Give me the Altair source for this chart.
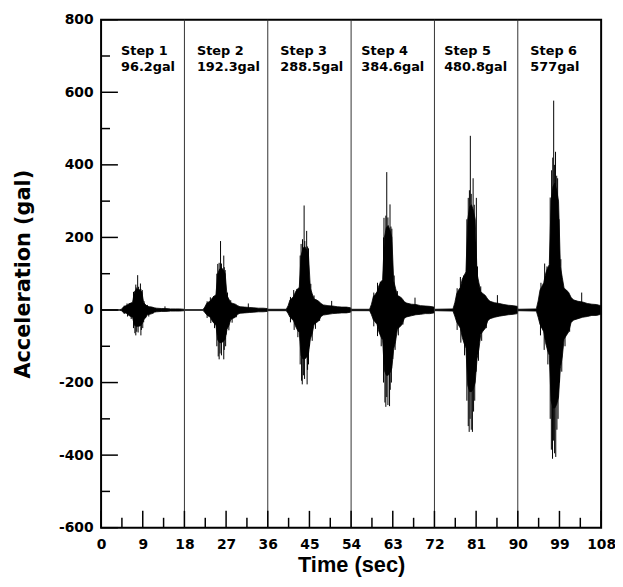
import altair as alt
import pandas as pd

FONT = "DejaVu Sans"
TITLE_FONT = "Liberation Sans"

# ---------------- data ----------------
step_names = ["Step 1", "Step 2", "Step 3", "Step 4", "Step 5", "Step 6"]
step_pga = ["96.2gal", "192.3gal", "288.5gal", "384.6gal", "480.8gal", "577gal"]
step_start = [0, 18, 36, 54, 72, 90]
label_x = [4.3, 20.7, 38.7, 56.2, 74.1, 92.7]
separators = [18, 36, 54, 72, 90]

x_major = [0, 9, 18, 27, 36, 45, 54, 63, 72, 81, 90, 99, 108]
x_minor = [4.5, 13.5, 22.5, 31.5, 40.5, 49.5, 58.5, 67.5, 76.5, 85.5, 94.5, 103.5]
y_major = [-600, -400, -200, 0, 200, 400, 600, 800]
y_minor = [-500, -300, -100, 100, 300, 500, 700]

# relative time grid (s within each step) of the dense core envelope
env_t = [0.0, 4.0, 4.4, 4.8, 5.2, 5.6, 6.0, 6.4, 6.8, 7.2, 7.6, 8.0, 8.4, 8.8,
         9.2, 9.6, 10.0, 10.5, 11.0, 11.5, 12.0, 13.0, 14.0, 15.0, 16.0, 17.0, 17.9]

env_hi = [
    [1, 1, 2, 8, 11, 13, 17, 19, 21, 50, 57, 58, 55, 50, 20, 15, 10, 9, 8, 6, 5, 4, 4, 3, 3, 3, 2],
    [1, 1, 8, 18, 22, 25, 33, 38, 42, 100, 113, 117, 110, 100, 40, 30, 20, 18, 16, 12, 9, 8, 7, 6, 5, 5, 4],
    [2, 2, 12, 28, 32, 38, 50, 58, 62, 150, 170, 175, 165, 150, 60, 45, 30, 28, 24, 18, 14, 12, 11, 9, 8, 8, 6],
    [2, 2, 16, 37, 43, 50, 67, 77, 83, 200, 227, 233, 220, 200, 80, 60, 40, 37, 32, 23, 19, 16, 15, 12, 11, 10, 8],
    [2, 3, 20, 45, 55, 62, 85, 95, 105, 250, 285, 290, 275, 250, 100, 75, 50, 45, 40, 30, 24, 20, 18, 15, 13, 12, 10],
    [2, 3, 25, 55, 65, 75, 100, 115, 125, 300, 340, 350, 330, 300, 120, 90, 60, 55, 48, 35, 28, 24, 22, 18, 16, 15, 12],
]
env_lo = [
    [-1, -1, -2, -7, -8, -10, -15, -18, -21, -42, -45, -45, -44, -40, -27, -22, -13, -12, -10, -6, -5, -4, -4, -3, -3, -3, -2],
    [-1, -1, -7, -13, -17, -20, -30, -37, -42, -83, -90, -90, -87, -80, -53, -43, -27, -23, -20, -12, -9, -8, -7, -6, -5, -5, -4],
    [-2, -2, -10, -20, -25, -30, -45, -55, -62, -125, -135, -135, -130, -120, -80, -65, -40, -35, -30, -18, -14, -12, -10, -9, -8, -8, -6],
    [-2, -2, -13, -27, -33, -40, -60, -73, -83, -167, -180, -180, -173, -160, -107, -87, -53, -47, -40, -23, -19, -16, -13, -12, -10, -10, -8],
    [-2, -3, -17, -33, -42, -50, -75, -92, -105, -208, -225, -225, -217, -200, -135, -108, -67, -58, -50, -30, -24, -20, -17, -15, -13, -12, -10],
    [-2, -3, -20, -40, -50, -60, -90, -110, -125, -250, -270, -270, -260, -240, -160, -130, -80, -70, -60, -35, -28, -24, -20, -18, -15, -15, -12],
]

# individual peaks (relative time, acceleration) standing out of the core
spike_t = [
    [5.0, 5.6, 6.3, 7.0, 7.5, 7.6, 7.9, 8.1, 8.5, 8.6, 8.9, 9.3, 10.0, 13.8,
     5.0, 5.7, 6.5, 7.0, 7.3, 7.5, 7.7, 8.0, 8.6, 8.7, 9.0, 9.2, 9.6, 10.3, 11.2],
    [4.9, 5.6, 6.3, 7.0, 7.2, 7.5, 7.8, 8.0, 8.5, 8.6, 8.8, 9.3, 10.0, 13.8,
     4.9, 5.7, 6.5, 7.0, 7.3, 7.5, 7.7, 8.0, 8.5, 8.6, 8.9, 9.0, 9.6, 10.3, 11.2],
    [4.9, 5.6, 6.3, 7.0, 7.2, 7.5, 7.85, 8.0, 8.4, 8.6, 8.8, 9.3, 10.0, 13.8,
     4.9, 5.7, 6.5, 7.0, 7.3, 7.45, 7.7, 7.95, 8.5, 8.6, 8.8, 9.0, 9.6, 10.3, 11.2],
    [4.9, 5.7, 6.3, 7.0, 7.1, 7.5, 7.7, 7.95, 8.4, 8.6, 8.8, 9.3, 10.0, 13.8,
     4.9, 5.7, 6.5, 7.0, 7.3, 7.5, 7.7, 7.95, 8.3, 8.45, 8.7, 9.0, 9.5, 10.2, 11.2],
    [4.9, 5.6, 6.3, 7.0, 7.3, 7.55, 7.75, 7.95, 8.35, 8.6, 9.05, 9.3, 10.0, 13.6,
     4.9, 5.7, 6.5, 7.0, 7.3, 7.5, 7.7, 7.95, 8.2, 8.45, 8.7, 9.0, 9.5, 10.2, 11.2],
    [5.0, 5.8, 6.3, 7.0, 7.3, 7.55, 7.75, 7.95, 8.15, 8.4, 8.6, 8.9, 9.3, 13.8,
     4.9, 5.7, 6.5, 7.0, 7.25, 7.5, 7.7, 7.95, 8.2, 8.45, 8.7, 9.0, 9.5, 10.2, 11.2],
]
spike_v = [
    [12, 18, 19, 50, 70, 62, 96, 64, 73, 58, 55, 24, 14, 10,
     -11, -18, -25, -50, -64, -70, -60, -62, -70, -55, -50, -34, -20, -18, -10],
    [24, 35, 38, 100, 127, 130, 190, 128, 150, 118, 110, 48, 27, 18,
     -22, -36, -50, -100, -128, -136, -120, -125, -136, -110, -100, -68, -56, -35, -20],
    [36, 55, 58, 150, 182, 195, 288, 190, 218, 175, 170, 72, 40, 25,
     -34, -55, -75, -150, -195, -205, -180, -190, -205, -165, -150, -100, -85, -52, -30],
    [48, 75, 78, 200, 254, 260, 380, 255, 291, 230, 224, 95, 52, 34,
     -45, -72, -100, -200, -255, -267, -240, -262, -265, -220, -200, -135, -110, -70, -40],
    [60, 91, 95, 250, 309, 330, 480, 320, 363, 290, 309, 120, 65, 41,
     -55, -90, -125, -250, -320, -336, -300, -330, -336, -280, -250, -170, -140, -85, -50],
    [75, 128, 120, 310, 385, 420, 577, 400, 436, 370, 363, 250, 140, 48,
     -70, -110, -150, -300, -385, -410, -360, -395, -405, -330, -300, -200, -170, -100, -60],
]

# ---------------- tables ----------------
env_rows = []
for k in range(6):
    for t, hi, lo in zip(env_t, env_hi[k], env_lo[k]):
        env_rows.append({"t": step_start[k] + t, "hi": hi, "lo": lo})
env_df = pd.DataFrame(env_rows)

spk_rows = []
for k in range(6):
    for t, v in zip(spike_t[k], spike_v[k]):
        spk_rows.append({"t": step_start[k] + t, "v": v, "zero": 0})
spk_df = pd.DataFrame(spk_rows)

sep_df = pd.DataFrame({"t": separators})
xmaj_df = pd.DataFrame({"t": x_major})
xmin_df = pd.DataFrame({"t": x_minor})
ymaj_df = pd.DataFrame({"v": y_major})
ymin_df = pd.DataFrame({"v": y_minor})
lab_df = pd.DataFrame({"t": label_x, "name": step_names, "pga": step_pga})

W, H = 505, 513

xs = alt.Scale(domain=[0, 108], nice=False, zero=False)
ys = alt.Scale(domain=[-600, 800], nice=False, zero=False)

xaxis = alt.Axis(values=x_major, ticks=False, domain=False, grid=False,
                 labelFont=FONT, labelFontSize=14, labelFontWeight="bold",
                 labelColor="black", labelPadding=10, labelFlush=False,
                 title="Time (sec)", titleFont=TITLE_FONT, titleFontSize=22,
                 titleFontWeight="bold", titleColor="black", titlePadding=3)
yaxis = alt.Axis(values=y_major, ticks=False, domain=False, grid=False,
                 labelExpr="'' + datum.value",
                 labelFont=FONT, labelFontSize=14, labelFontWeight="bold",
                 labelColor="black", labelPadding=8, labelFlush=False,
                 title="Acceleration (gal)", titleFont=FONT, titleFontSize=21,
                 titleFontWeight="bold", titleColor="black", titlePadding=25)


def X(field):
    return alt.X(f"{field}:Q", scale=xs, axis=xaxis)


def Y(field):
    return alt.Y(f"{field}:Q", scale=ys, axis=yaxis)


core = alt.Chart(env_df).mark_area(color="black", stroke="black",
                                   strokeWidth=0.8, interpolate="linear").encode(
    x=X("t"), y=Y("hi"), y2="lo")

spikes = alt.Chart(spk_df).mark_rule(color="black", strokeWidth=1).encode(
    x=X("t"), y=Y("zero"), y2="v")

seps = alt.Chart(sep_df).mark_rule(color="#333333", strokeWidth=1).encode(x=X("t"))

xmaj = alt.Chart(xmaj_df).mark_rule(color="black", strokeWidth=1.5).encode(
    x=X("t"), y=alt.value({"expr": "height"}), y2=alt.value({"expr": "height - 17"}))
xmin = alt.Chart(xmin_df).mark_rule(color="black", strokeWidth=1.5).encode(
    x=X("t"), y=alt.value({"expr": "height"}), y2=alt.value({"expr": "height - 10"}))
ymaj = alt.Chart(ymaj_df).mark_rule(color="black", strokeWidth=1.5).encode(
    y=Y("v"), x=alt.value(0), x2=alt.value(17))
ymin = alt.Chart(ymin_df).mark_rule(color="black", strokeWidth=1.5).encode(
    y=Y("v"), x=alt.value(0), x2=alt.value(9))

lab1 = alt.Chart(lab_df).mark_text(align="left", baseline="alphabetic", font=FONT,
                                   fontSize=13, fontWeight="bold", color="black").encode(
    x=X("t"), y=alt.value(36), text="name:N")
lab2 = alt.Chart(lab_df).mark_text(align="left", baseline="alphabetic", font=FONT,
                                   fontSize=13, fontWeight="bold", color="black").encode(
    x=X("t"), y=alt.value(52), text="pga:N")

chart = alt.layer(core, spikes, seps, xmaj, xmin, ymaj, ymin, lab1, lab2).properties(
    width=W, height=H,
    autosize=alt.AutoSizeParams(type="none"),
    padding={"left": 94, "top": 9, "right": 14, "bottom": 51},
    background="white",
).configure_view(stroke="black", strokeWidth=2)

chart.save("out.html", embed_options={"renderer": "svg", "actions": False})
